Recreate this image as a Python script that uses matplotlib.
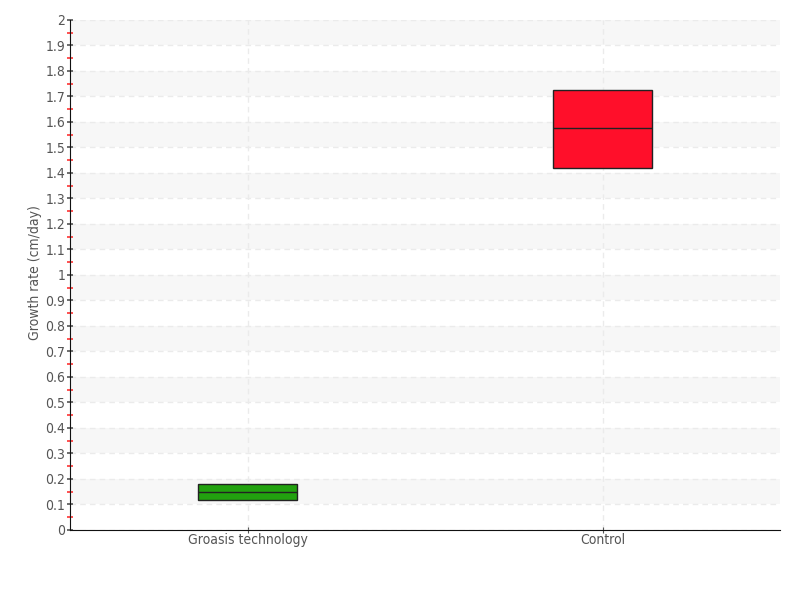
import matplotlib
matplotlib.use("Agg")
import matplotlib.pyplot as plt
import numpy as np

categories = ["Groasis technology", "Control"]
q1 = [0.118, 1.42]
median = [0.149, 1.576]
q3 = [0.18, 1.725]
colors = ["#22a20f", "#ff0f2a"]

plt.rcParams["font.family"] = ["DejaVu Sans"]
plt.rcParams["font.stretch"] = "condensed"

fig = plt.figure(figsize=(8, 6), dpi=100)
ax = fig.add_axes([0.0875, 0.1167, 0.8875, 0.85])

# alternating background bands
for lo in np.arange(0.1, 2.0, 0.2):
    ax.axhspan(lo, lo + 0.1, color="#f7f7f7", zorder=0, lw=0)

stats = []
for i, name in enumerate(categories):
    stats.append({"label": name, "q1": q1[i], "med": median[i], "q3": q3[i],
                  "whislo": q1[i], "whishi": q3[i], "fliers": []})

bp = ax.bxp(stats, positions=range(len(categories)), widths=0.28,
            patch_artist=True, showcaps=False, showfliers=False,
            boxprops=dict(edgecolor="#222222", linewidth=1),
            medianprops=dict(color="#222222", linewidth=1),
            whiskerprops=dict(linewidth=0))
for patch, c in zip(bp["boxes"], colors):
    patch.set_facecolor(c)
    patch.set_zorder(3)
for m in bp["medians"]:
    m.set_zorder(4)

ax.set_xlim(-0.5, 1.5)
ax.set_ylim(0, 2)
yt = np.round(np.arange(0, 2.01, 0.1), 1)
ax.set_yticks(yt)
ax.set_yticklabels([f"{v:g}" for v in yt])
ax.set_yticks(np.arange(0.05, 2.0, 0.1), minor=True)
ax.set_xticks(range(len(categories)))
ax.set_xticklabels(categories)

ax.grid(True, which="major", color="#ebebeb", linestyle=(0, (4, 3)), linewidth=1)
ax.set_axisbelow(True)

for s in ["top", "right"]:
    ax.spines[s].set_visible(False)
ax.spines["left"].set_color("#111111")
ax.spines["bottom"].set_color("#111111")

ax.tick_params(axis="y", which="major", direction="inout", length=5, width=1.2,
               color="#555555", labelsize=10, labelcolor="#555555", pad=1)
ax.tick_params(axis="y", which="minor", direction="inout", length=4, width=1.2,
               color="#ff3333")
ax.tick_params(axis="x", direction="inout", length=5, color="#555555",
               labelsize=10, labelcolor="#555555", pad=0)

ax.set_ylabel("Growth rate (cm/day)", fontsize=10, color="#555555")
ax.yaxis.set_label_coords(-0.039, 0.505)

fig.savefig("out.png", dpi=100)
